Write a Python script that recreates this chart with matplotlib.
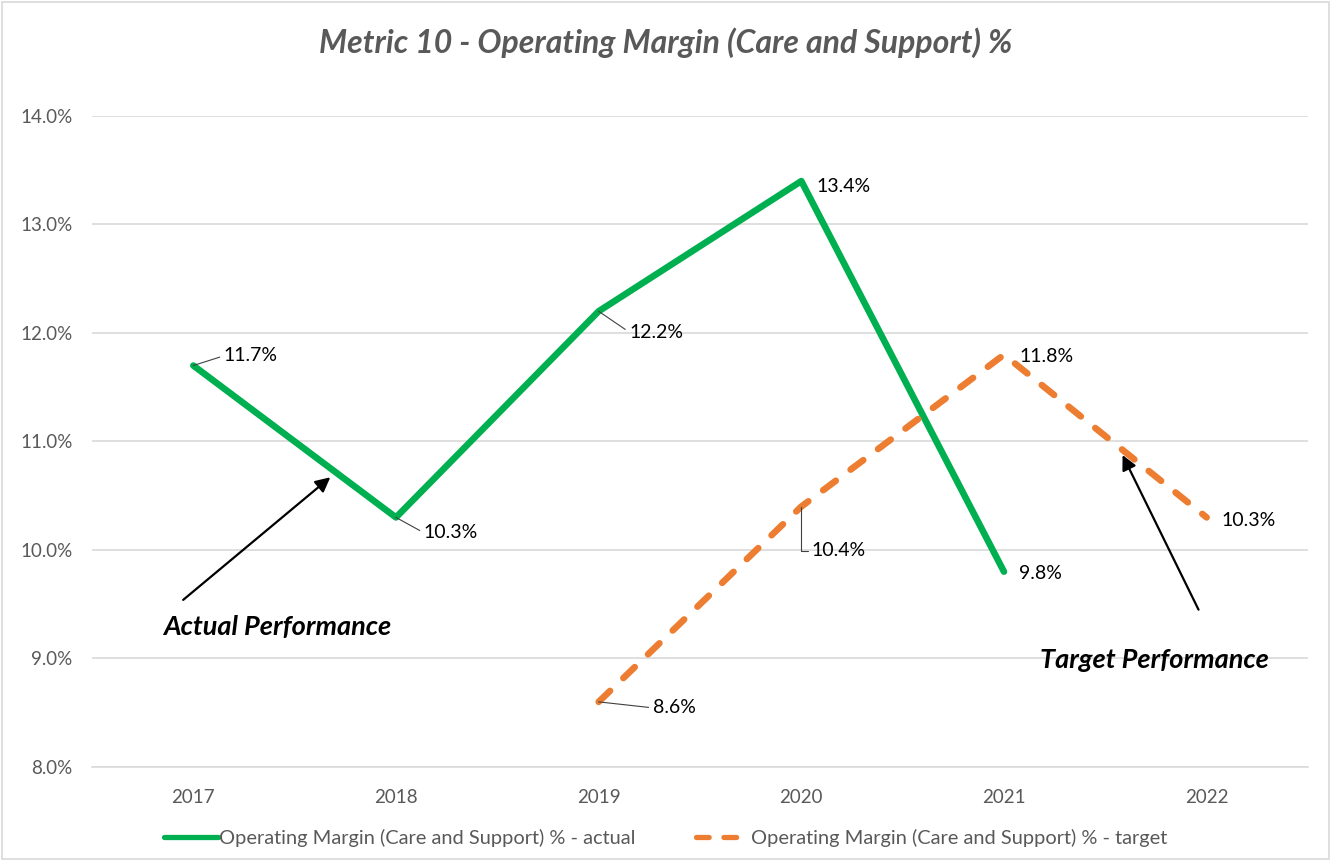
import matplotlib
matplotlib.use("Agg")
import matplotlib.pyplot as plt
from matplotlib.patches import Rectangle
from matplotlib.ticker import FuncFormatter

plt.rcParams['font.family'] = ['Lato', 'DejaVu Sans']

# data
years = ["2017", "2018", "2019", "2020", "2021", "2022"]
actual = [11.7, 10.3, 12.2, 13.4, 9.8, None]
target = [None, None, 8.6, 10.4, 11.8, 10.3]
actual_label = "Operating Margin (Care and Support) % - actual"
target_label = "Operating Margin (Care and Support) % - target"
title = "Metric 10 - Operating Margin (Care and Support) %"

GREEN = "#00b050"
ORANGE = "#ed7d31"
GRAY = "#595959"
GRID = "#d9d9d9"

fig = plt.figure(figsize=(13.31, 8.61), dpi=100)
ax = fig.add_axes([0.0691, 0.1092, 0.9136, 0.7561])

x = list(range(len(years)))
ax_x = [i for i, v in zip(x, actual) if v is not None]
ax_y = [v for v in actual if v is not None]
tx_x = [i for i, v in zip(x, target) if v is not None]
tx_y = [v for v in target if v is not None]

ax.plot(ax_x, ax_y, color=GREEN, lw=4.75, solid_capstyle='round',
        solid_joinstyle='round', label=actual_label, zorder=3)
ax.plot(tx_x, tx_y, color=ORANGE, lw=4.75, dashes=(2.4, 2.8),
        dash_capstyle='round', dash_joinstyle='round', label=target_label, zorder=4)

ax.set_xlim(-0.5, len(years) - 0.5)
ax.set_ylim(8, 14)
ax.set_yticks([8, 9, 10, 11, 12, 13, 14])
ax.yaxis.set_major_formatter(FuncFormatter(lambda v, p: f"{v:.1f}%"))
ax.set_xticks(x)
ax.set_xticklabels(years)
ax.tick_params(length=0, labelsize=13.5, colors=GRAY)
ax.tick_params(axis='x', pad=16)
ax.tick_params(axis='y', pad=14)
ax.grid(axis='y', color=GRID, lw=1.2, zorder=0)
ax.set_axisbelow(True)
for s in ['top', 'right', 'left']:
    ax.spines[s].set_visible(False)
ax.spines['bottom'].set_color(GRID)
ax.spines['bottom'].set_linewidth(1.2)

# data labels: (x index, value, offset in points, leader style)
lead = dict(arrowstyle='-', color='#404040', lw=0.8, shrinkA=1, shrinkB=0,
            relpos=(0, 0.5))
def label(xi, v, dx, dy, leader=None):
    kw = {}
    if leader is not None:
        kw['arrowprops'] = dict(lead, connectionstyle=leader)
    ax.annotate(f"{v:.1f}%", (xi, v), xytext=(dx, dy), textcoords='offset points',
                ha='left', va='center', fontsize=14, color='black', zorder=6, **kw)

label(0, actual[0], 22, 7, "arc3")
label(1, actual[1], 20, -11, "arc3")
label(2, actual[2], 22, -15, "arc3")
label(3, actual[3], 11, -3.6)
label(4, actual[4], 11, -1)
label(2, target[2], 39, -4.3, "arc3")
label(3, target[3], 7.5, -31.7, "angle,angleA=0,angleB=90,rad=0")
label(4, target[4], 11, -1)
label(5, target[5], 11, -2)

# call-out arrows
ax.annotate("", xy=(0.676, 10.67), xytext=(-0.05, 9.54),
            arrowprops=dict(arrowstyle='-|>', color='black', lw=1.6,
                            mutation_scale=22, shrinkA=0, shrinkB=0))
ax.text(0.415, 9.29, "Actual Performance", ha='center', va='center',
        fontsize=19.5, fontweight='bold', fontstyle='italic', color='black')
ax.annotate("", xy=(4.585, 10.875), xytext=(4.96, 9.45),
            arrowprops=dict(arrowstyle='-|>', color='black', lw=1.6,
                            mutation_scale=22, shrinkA=0, shrinkB=0))
ax.text(4.74, 8.99, "Target Performance", ha='center', va='center',
        fontsize=19.5, fontweight='bold', fontstyle='italic', color='black')

fig.text(0.5, 0.951, title, ha='center', va='center', fontsize=23,
         fontweight='bold', fontstyle='italic', color=GRAY)

leg = fig.legend(loc='center', bbox_to_anchor=(0.5, 0.027), ncol=2, frameon=False,
                 fontsize=14.4, handlelength=2.7, handletextpad=0.05,
                 columnspacing=3.0, labelcolor=GRAY)
for h in leg.legend_handles:
    h.set_linewidth(3.8)

fig.add_artist(Rectangle((0.0015, 0.002), 0.997, 0.996, transform=fig.transFigure,
                         fill=False, edgecolor=GRID, lw=1.2))

fig.savefig("out.png", dpi=100)
